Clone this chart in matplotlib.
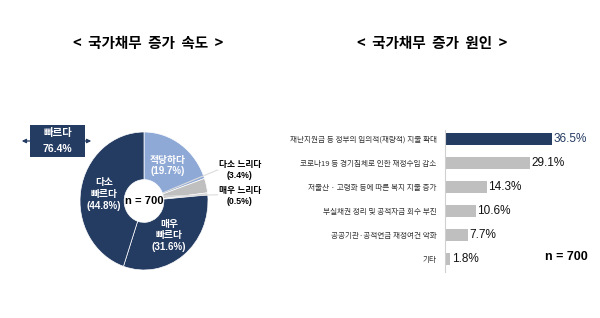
import numpy as np
import matplotlib
matplotlib.use('Agg')
import matplotlib.pyplot as plt
from matplotlib.patches import Rectangle, FancyArrowPatch

plt.rcParams['font.family'] = ['Liberation Sans Narrow', 'Liberation Sans', 'Noto Sans CJK KR', 'DejaVu Sans']

# data
speed_labels = ['적당하다', '다소 느리다', '매우 느리다', '매우 빠르다', '다소 빠르다']
speed_values = [19.7, 3.4, 0.5, 31.6, 44.8]
fast_total = 76.4

cause_labels = ['재난지원금 등 정부의 임의적(재량적) 지출 확대',
                '코로나19 등 경기침체로 인한 재정수입 감소',
                '저출산 · 고령화 등에 따른 복지 지출 증가',
                '부실채권 정리 및 공적자금 회수 부진',
                '공공기관·공적연금 재정여건 악화',
                '기타']
cause_values = [36.5, 29.1, 14.3, 10.6, 7.7, 1.8]
n_resp = 700

navy = '#243b62'
light_blue = '#8fa9d6'
gray = '#bfbfbf'
kr = ['Noto Sans CJK KR', 'DejaVu Sans']

fig = plt.figure(figsize=(6, 3.18), dpi=100)
W, H = 600, 318

def fx(px):
    return px / W

def fy(py):
    return 1 - py / H

# titles
fig.text(fx(148), fy(43), '<  국가채무  증가  속도  >', ha='center', va='center',
         fontsize=10.5, fontweight='bold', family=kr)
fig.text(fx(432), fy(43), '<  국가채무  증가  원인  >', ha='center', va='center',
         fontsize=10.5, fontweight='bold', family=kr)

# ---- donut ----
ax = fig.add_axes([fx(80), fy(270), 128 / W, 138 / H])
wedges, _ = ax.pie(speed_values, startangle=90, counterclock=False,
                   colors=[light_blue, gray, '#d0d0d0', navy, navy],
                   radius=1, wedgeprops=dict(width=0.69, edgecolor='white', linewidth=0.5))
ax.set_aspect('auto')
ax.set_xlim(-1, 1)
ax.set_ylim(-1, 1)

inside = {0: '적당하다\n({:.1f}%)', 3: '매우\n빠르다\n({:.1f}%)', 4: '다소\n빠르다\n({:.1f}%)'}
for i, fmt in inside.items():
    w = wedges[i]
    mid = np.deg2rad((w.theta1 + w.theta2) / 2)
    ax.text(0.63 * np.cos(mid), 0.63 * np.sin(mid), fmt.format(speed_values[i]),
            ha='center', va='center', color='white', fontsize=7, fontweight='bold',
            linespacing=1.2)

ax.text(0, 0, 'n = {}'.format(n_resp), ha='center', va='center', fontsize=8,
        fontweight='bold', color='black')

# small slices: outside labels with leader lines
ax.plot([0.30, 1.15], [0.12, 0.45], color='#dcdcdc', lw=0.8, clip_on=False)
ax.plot([0.30, 1.15], [0.07, 0.09], color='#dcdcdc', lw=0.8, clip_on=False)
ax.text(1.5, 0.45, '{}\n({:.1f}%)'.format(speed_labels[1], speed_values[1]),
        ha='center', va='center', fontsize=6.3, fontweight='bold', clip_on=False,
        linespacing=1.2)
ax.text(1.5, 0.07, '{}\n({:.1f}%)'.format(speed_labels[2], speed_values[2]),
        ha='center', va='center', fontsize=6.3, fontweight='bold', clip_on=False,
        linespacing=1.2)

# "빠르다 76.4%" box with arrow
arr = FancyArrowPatch((fx(19), fy(141)), (fx(94), fy(141)), transform=fig.transFigure,
                      arrowstyle='<|-|>', mutation_scale=6, color=navy, lw=0.9)
fig.add_artist(arr)
fig.add_artist(Rectangle((fx(30), fy(157)), 55 / W, 32 / H, transform=fig.transFigure,
                         facecolor=navy, edgecolor='none', zorder=3))
fig.text(fx(57.5), fy(133), '빠르다', ha='center', va='center', color='white',
         fontsize=7.5, fontweight='bold', zorder=4)
fig.text(fx(57.5), fy(148.5), '{:.1f}%'.format(fast_total), ha='center', va='center',
         color='white', fontsize=7.5, fontweight='bold', zorder=4)

# ---- bars ----
bx = fig.add_axes([fx(445), fy(272), 146.5 / W, 142 / H])
y = np.arange(len(cause_values))
bar_colors = [navy] + [gray] * (len(cause_values) - 1)
bars = bx.barh(y, cause_values, height=0.52, color=bar_colors)
bx.set_xlim(0, 50)
bx.set_ylim(5.54, -0.375)
bx.set_yticks(y)
bx.set_yticklabels(cause_labels, fontsize=5.5, color='#333333', family=kr)
bx.tick_params(axis='y', length=0, pad=6)
bx.set_xticks([])
for s in ['top', 'right', 'bottom']:
    bx.spines[s].set_visible(False)
bx.spines['left'].set_color('#d0d0d0')
bx.spines['left'].set_linewidth(0.8)

for i, v in enumerate(cause_values):
    bx.text(v + 0.5, i, '{:.1f}%'.format(v), ha='left', va='center', fontsize=8.5,
            color=navy if i == 0 else '#111111')

fig.text(fx(566), fy(257), 'n = {}'.format(n_resp), ha='center', va='center',
         fontsize=9, fontweight='bold')

fig.savefig('out.png', dpi=100, facecolor='white')
